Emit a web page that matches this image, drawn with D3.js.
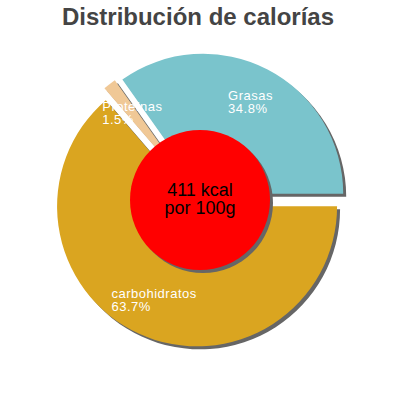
<!DOCTYPE html>
<html>
<head>
<meta charset="utf-8">
<script src="https://cdn.jsdelivr.net/npm/d3@7"></script>
<style>
  body { margin: 0; background: #fff; }
  svg { display: block; font-family: "Liberation Sans", Arial, sans-serif; }
</style>
</head>
<body>
<svg id="chart" width="400" height="400"></svg>
<script>
// ---- data ----
const categories = ["Grasas", "Proteínas", "carbohidratos"];
const percents = [34.8, 1.5, 63.7];
const colors = ["#7ac4cc", "#f0c896", "#daa520"];
const centerLines = ["411 kcal", "por 100g"];
const title = "Distribución de calorías";

// ---- layout ----
const cx = 200, cy = 200;
const outerR = 140;
const explode = 7;
const labelR = 110;
const holeR = 70;

const svg = d3.select("#chart");

svg.append("text")
    .attr("x", 198)
    .attr("y", 25)
    .attr("text-anchor", "middle")
    .attr("font-size", 24)
    .attr("font-weight", "bold")
    .attr("fill", "#444")
    .text(title);

// pie drawn counter-clockwise from 3 o'clock
const pie = d3.pie()
    .sort(null)
    .startAngle(Math.PI / 2)
    .endAngle(Math.PI / 2 - 2 * Math.PI)
    .value(d => d);

const arcs = pie(percents);
const arc = d3.arc().innerRadius(0).outerRadius(outerR);

const g = svg.append("g").attr("transform", `translate(${cx},${cy})`);

function offset(d, r) {
    const a = (d.startAngle + d.endAngle) / 2;
    return [Math.sin(a) * r, -Math.cos(a) * r];
}

// shadows
g.selectAll("path.shadow")
    .data(arcs)
    .join("path")
    .attr("class", "shadow")
    .attr("fill", "#666")
    .attr("d", arc)
    .attr("transform", d => {
        const [dx, dy] = offset(d, explode);
        return `translate(${dx + 3},${dy + 3})`;
    });

// slices
g.selectAll("path.slice")
    .data(arcs)
    .join("path")
    .attr("class", "slice")
    .attr("fill", (d, i) => colors[i])
    .attr("d", arc)
    .attr("transform", d => {
        const [dx, dy] = offset(d, explode);
        return `translate(${dx},${dy})`;
    });

// labels: two-line block centred on the bisector, left aligned
arcs.forEach((d, i) => {
    const [px, py] = offset(d, labelR);
    const t = g.append("text")
        .attr("fill", "#fff")
        .attr("font-size", 13)
        .attr("letter-spacing", 0.5);
    const l1 = t.append("tspan").attr("y", py - 2).text(categories[i]);
    const l2 = t.append("tspan").attr("y", py + 11).text(percents[i].toFixed(1) + "%");
    const w = Math.max(l1.node().getComputedTextLength(), l2.node().getComputedTextLength());
    l1.attr("x", px - w / 2);
    l2.attr("x", px - w / 2);
});

// centre circle
g.append("circle")
    .attr("cx", 3).attr("cy", 3)
    .attr("r", holeR)
    .attr("fill", "#666");
g.append("circle")
    .attr("r", holeR)
    .attr("fill", "#ff0000");

g.selectAll("text.center")
    .data(centerLines)
    .join("text")
    .attr("class", "center")
    .attr("text-anchor", "middle")
    .attr("font-size", 18)
    .attr("fill", "#000")
    .attr("x", 0)
    .attr("y", (d, i) => -4 + i * 18)
    .text(d => d);
</script>
</body>
</html>
